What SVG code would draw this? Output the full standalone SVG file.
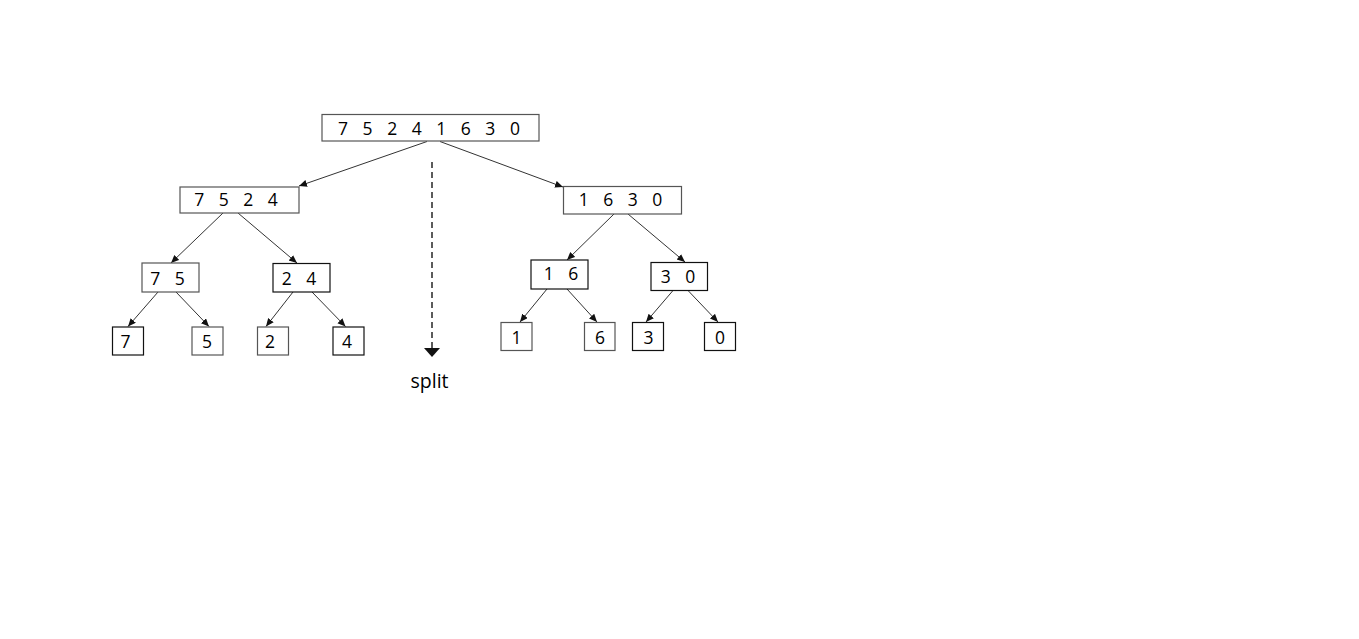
<svg xmlns="http://www.w3.org/2000/svg" width="1359" height="639" viewBox="0 0 1359 639">
<defs>
<style>
.box{fill:#fff;stroke:#555;stroke-width:1.2}
.box2{fill:#fff;stroke:#111;stroke-width:1.2}
.t{font-family:"Open Sans","Noto Sans",sans-serif;font-size:17.5px;fill:#000;text-anchor:middle;word-spacing:10px}
.e{stroke:#333;stroke-width:1;fill:none;marker-end:url(#ah)}
</style>
<marker id="ah" markerUnits="userSpaceOnUse" markerWidth="9" markerHeight="8" refX="8" refY="3.5" orient="auto">
<path d="M0,0 L8,3.5 L0,7 z" fill="#111"/>
</marker>
</defs>
<rect width="1359" height="639" fill="#fff"/>
<g id="connectors">
<line class="e" x1="427" y1="141.5" x2="299" y2="186"/>
<line class="e" x1="440" y1="141.5" x2="563" y2="187"/>
<line class="e" x1="223" y1="213" x2="171" y2="263"/>
<line class="e" x1="238" y1="213" x2="297" y2="263"/>
<line class="e" x1="158" y1="292" x2="128" y2="326.5"/>
<line class="e" x1="176" y1="292" x2="209" y2="326.5"/>
<line class="e" x1="293" y1="292" x2="266" y2="326.5"/>
<line class="e" x1="312" y1="292" x2="345.5" y2="326.5"/>
<line class="e" x1="614" y1="214" x2="567" y2="260"/>
<line class="e" x1="628" y1="214" x2="685" y2="262"/>
<line class="e" x1="547" y1="289" x2="520" y2="322"/>
<line class="e" x1="567" y1="289" x2="597" y2="322"/>
<line class="e" x1="673" y1="290.5" x2="646" y2="322"/>
<line class="e" x1="688" y1="290.5" x2="718" y2="322"/>
<line x1="432" y1="162" x2="432" y2="348" stroke="#333" stroke-width="1.6" stroke-dasharray="6,4"/>
<polygon points="424,348 440,348 432,357" fill="#111"/>
</g>
<g id="n-root"><rect class="box" x="322" y="114.5" width="217" height="26.5"/><text class="t" x="429" y="135">7 5 2 4 1 6 3 0</text></g>
<g id="n-7524"><rect class="box" x="180" y="187" width="119" height="26"/><text class="t" x="236" y="206">7 5 2 4</text></g>
<g id="n-1630"><rect class="box" x="563.5" y="186.5" width="118" height="27.5"/><text class="t" x="620.5" y="206">1 6 3 0</text></g>
<g id="n-75"><rect class="box" x="142" y="263" width="57" height="29"/><text class="t" x="167.5" y="285">7 5</text></g>
<g id="n-24"><rect class="box2" x="273" y="263.5" width="57" height="28.5"/><text class="t" x="299" y="285">2 4</text></g>
<g id="n-16"><rect class="box2" x="531" y="260" width="57" height="29"/><text class="t" x="561" y="280">1 6</text></g>
<g id="n-30"><rect class="box2" x="651" y="262.5" width="56.5" height="28"/><text class="t" x="678" y="283">3 0</text></g>
<g id="n-7"><rect class="box2" x="112.5" y="327" width="31" height="28"/><text class="t" x="125.5" y="347.5">7</text></g>
<g id="n-5"><rect class="box" x="192" y="327" width="31" height="28"/><text class="t" x="207" y="347.5">5</text></g>
<g id="n-2"><rect class="box" x="257.5" y="327" width="31" height="28"/><text class="t" x="270" y="347.5">2</text></g>
<g id="n-4"><rect class="box2" x="333" y="327" width="31" height="28"/><text class="t" x="347" y="347.5">4</text></g>
<g id="n-1"><rect class="box" x="501" y="322.5" width="31" height="28"/><text class="t" x="516.5" y="343.5">1</text></g>
<g id="n-6"><rect class="box" x="584.5" y="322.5" width="30.5" height="28"/><text class="t" x="600" y="343.5">6</text></g>
<g id="n-3"><rect class="box2" x="632.5" y="322.5" width="31" height="28"/><text class="t" x="648.5" y="343.5">3</text></g>
<g id="n-0"><rect class="box2" x="704.5" y="322.5" width="31" height="28"/><text class="t" x="720" y="343.5">0</text></g>
<g id="n-split"><text x="429.5" y="388" font-family="Open Sans, Noto Sans, sans-serif" font-size="19.5" fill="#000" text-anchor="middle">split</text></g>
</svg>
